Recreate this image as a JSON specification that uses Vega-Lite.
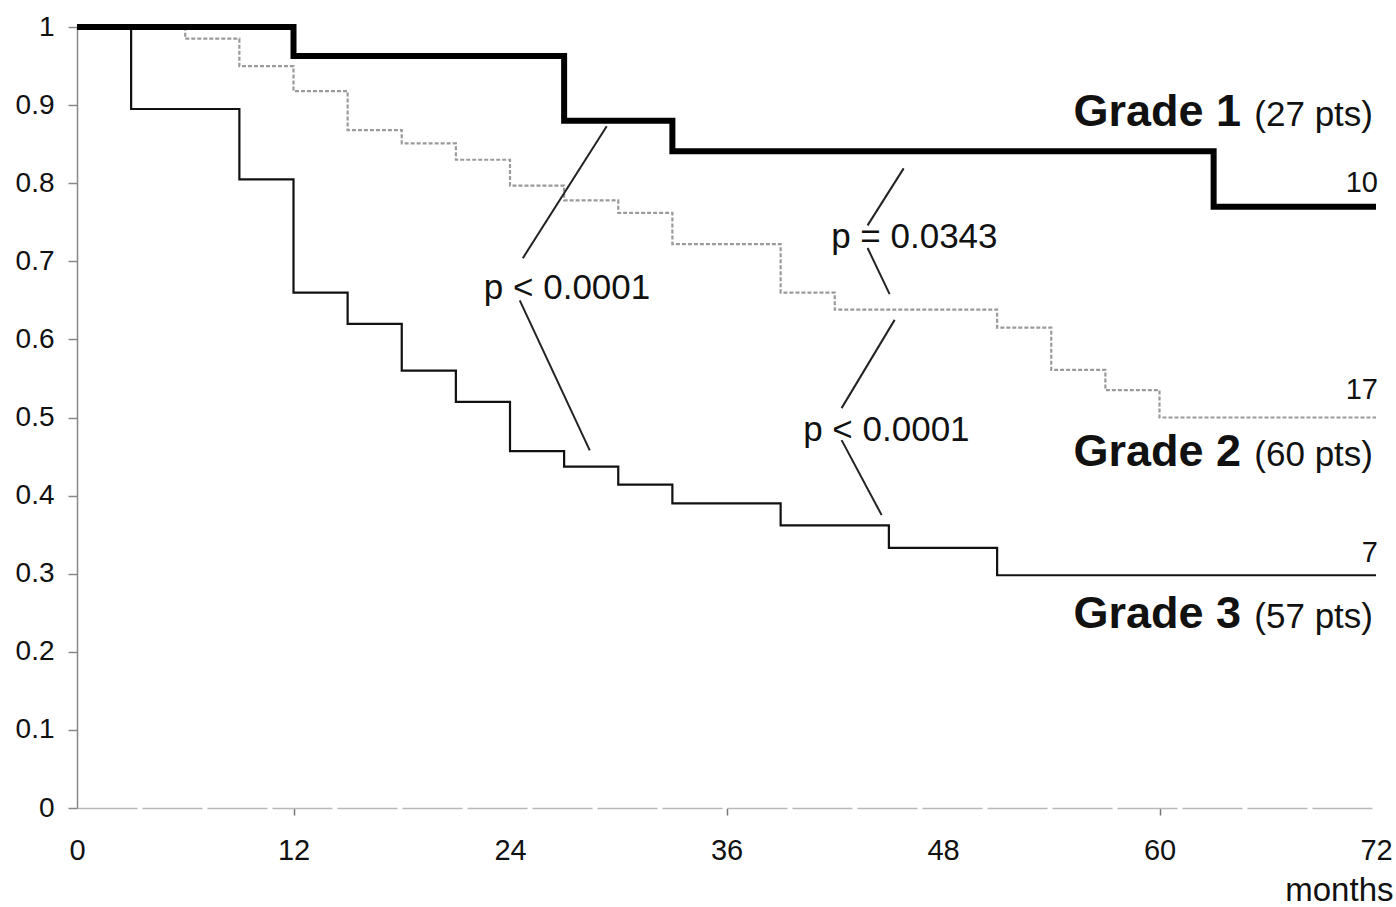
{
  "$schema": "https://vega.github.io/schema/vega-lite/v6.json",
  "width": 1299,
  "height": 781,
  "autosize": "none",
  "padding": {"left": 77, "top": 27, "right": 20, "bottom": 99},
  "background": "white",
  "config": {
    "view": {"stroke": null},
    "font": "Liberation Sans",
    "text": {"font": "Liberation Sans", "color": "#111"}
  },
  "datasets": {
    "km": [
      {"grade": "Grade 1", "month": 0, "surv": 1},
      {"grade": "Grade 1", "month": 12, "surv": 0.963},
      {"grade": "Grade 1", "month": 27, "surv": 0.88},
      {"grade": "Grade 1", "month": 33, "surv": 0.841},
      {"grade": "Grade 1", "month": 63, "surv": 0.77},
      {"grade": "Grade 1", "month": 72, "surv": 0.77},
      {"grade": "Grade 2", "month": 0, "surv": 1},
      {"grade": "Grade 2", "month": 6, "surv": 0.985},
      {"grade": "Grade 2", "month": 9, "surv": 0.95},
      {"grade": "Grade 2", "month": 12, "surv": 0.918},
      {"grade": "Grade 2", "month": 15, "surv": 0.868},
      {"grade": "Grade 2", "month": 18, "surv": 0.851},
      {"grade": "Grade 2", "month": 21, "surv": 0.83},
      {"grade": "Grade 2", "month": 24, "surv": 0.797},
      {"grade": "Grade 2", "month": 27, "surv": 0.778},
      {"grade": "Grade 2", "month": 30, "surv": 0.762},
      {"grade": "Grade 2", "month": 33, "surv": 0.722},
      {"grade": "Grade 2", "month": 39, "surv": 0.66},
      {"grade": "Grade 2", "month": 42, "surv": 0.638},
      {"grade": "Grade 2", "month": 51, "surv": 0.615},
      {"grade": "Grade 2", "month": 54, "surv": 0.561},
      {"grade": "Grade 2", "month": 57, "surv": 0.535},
      {"grade": "Grade 2", "month": 60, "surv": 0.5},
      {"grade": "Grade 2", "month": 72, "surv": 0.5},
      {"grade": "Grade 3", "month": 0, "surv": 1},
      {"grade": "Grade 3", "month": 3, "surv": 0.895},
      {"grade": "Grade 3", "month": 9, "surv": 0.805},
      {"grade": "Grade 3", "month": 12, "surv": 0.66},
      {"grade": "Grade 3", "month": 15, "surv": 0.62},
      {"grade": "Grade 3", "month": 18, "surv": 0.56},
      {"grade": "Grade 3", "month": 21, "surv": 0.52},
      {"grade": "Grade 3", "month": 24, "surv": 0.457},
      {"grade": "Grade 3", "month": 27, "surv": 0.437},
      {"grade": "Grade 3", "month": 30, "surv": 0.414},
      {"grade": "Grade 3", "month": 33, "surv": 0.39},
      {"grade": "Grade 3", "month": 39, "surv": 0.362},
      {"grade": "Grade 3", "month": 45, "surv": 0.333},
      {"grade": "Grade 3", "month": 51, "surv": 0.298},
      {"grade": "Grade 3", "month": 72, "surv": 0.298}
    ],
    "connectors": [
      {"seg": 1, "month": 29.36, "surv": 0.873},
      {"seg": 1, "month": 24.71, "surv": 0.704},
      {"seg": 2, "month": 24.54, "surv": 0.65},
      {"seg": 2, "month": 28.42, "surv": 0.458},
      {"seg": 3, "month": 45.82, "surv": 0.819},
      {"seg": 3, "month": 43.82, "surv": 0.746},
      {"seg": 4, "month": 43.82, "surv": 0.717},
      {"seg": 4, "month": 45.04, "surv": 0.658},
      {"seg": 5, "month": 45.32, "surv": 0.625},
      {"seg": 5, "month": 42.38, "surv": 0.512},
      {"seg": 6, "month": 42.38, "surv": 0.471},
      {"seg": 6, "month": 44.6, "surv": 0.375}
    ],
    "pvalues": [
      {"label": "p < 0.0001", "month": 22.55, "surv": 0.666},
      {"label": "p = 0.0343", "month": 41.8, "surv": 0.731},
      {"label": "p < 0.0001", "month": 40.25, "surv": 0.484}
    ],
    "grades": [
      {"grade": "Grade 1", "pts": "(27 pts)", "month": 72, "surv": 0.891},
      {"grade": "Grade 2", "pts": "(60 pts)", "month": 72, "surv": 0.456},
      {"grade": "Grade 3", "pts": "(57 pts)", "month": 72, "surv": 0.248}
    ],
    "counts": [
      {"n": "10", "month": 72, "surv": 0.8},
      {"n": "17", "month": 72, "surv": 0.535},
      {"n": "7", "month": 72, "surv": 0.3265}
    ]
  },
  "encoding": {
    "x": {
      "field": "month", "type": "quantitative",
      "scale": {"domain": [0, 72], "nice": false, "zero": false},
      "axis": {
        "title": "months",
        "values": [0, 12, 24, 36, 48, 60, 72],
        "grid": false,
        "labelFont": "Liberation Sans",
        "labelFontSize": 29,
        "labelColor": "#111",
        "labelPadding": 21,
        "labelFlush": false,
        "domainColor": "#b8b8b8",
        "domainWidth": 1.5,
        "domainDash": [60, 5],
        "tickColor": "#777",
        "tickSize": 7,
        "tickWidth": 1.5,
        "tickOpacity": {"condition": {"test": "datum.value % 24 == 12", "value": 1}, "value": 0},
        "titleFont": "Liberation Sans",
        "titleFontSize": 33,
        "titleFontWeight": "normal",
        "titleColor": "#111",
        "titleAlign": "right",
        "titleBaseline": "middle",
        "titleX": 1316,
        "titleY": 82
      }
    },
    "y": {
      "field": "surv", "type": "quantitative",
      "scale": {"domain": [0, 1], "nice": false},
      "axis": {
        "title": null,
        "values": [0, 0.1, 0.2, 0.3, 0.4, 0.5, 0.6, 0.7, 0.8, 0.9, 1],
        "labelExpr": "format(datum.value, '~g')",
        "grid": false,
        "labelFont": "Liberation Sans",
        "labelFontSize": 28,
        "labelColor": "#111",
        "labelPadding": 14,
        "domainColor": "#888",
        "domainWidth": 1.5,
        "tickColor": "#888",
        "tickSize": 9,
        "tickWidth": 1.5
      }
    }
  },
  "layer": [
    {
      "data": {"name": "km"},
      "transform": [{"filter": "datum.grade == 'Grade 2'"}],
      "mark": {"type": "line", "interpolate": "step-after", "color": "#9a9a9a", "strokeWidth": 2.2, "strokeDash": [4, 2]}
    },
    {
      "data": {"name": "km"},
      "transform": [{"filter": "datum.grade == 'Grade 3'"}],
      "mark": {"type": "line", "interpolate": "step-after", "color": "#111", "strokeWidth": 2.2}
    },
    {
      "data": {"name": "km"},
      "transform": [{"filter": "datum.grade == 'Grade 1'"}],
      "mark": {"type": "line", "interpolate": "step-after", "color": "#000", "strokeWidth": 6}
    },
    {
      "data": {"name": "connectors"},
      "mark": {"type": "line", "color": "#222", "strokeWidth": 2},
      "encoding": {"detail": {"field": "seg", "type": "nominal"}}
    },
    {
      "data": {"name": "pvalues"},
      "mark": {"type": "text", "align": "left", "baseline": "middle", "fontSize": 35},
      "encoding": {"text": {"field": "label"}}
    },
    {
      "data": {"name": "grades"},
      "mark": {"type": "text", "align": "right", "baseline": "middle", "fontSize": 45, "fontWeight": "bold", "dx": -135},
      "encoding": {"text": {"field": "grade"}}
    },
    {
      "data": {"name": "grades"},
      "mark": {"type": "text", "align": "right", "baseline": "middle", "fontSize": 35, "dx": -3, "dy": 3},
      "encoding": {"text": {"field": "pts"}}
    },
    {
      "data": {"name": "counts"},
      "mark": {"type": "text", "align": "right", "baseline": "middle", "fontSize": 29, "dx": 2},
      "encoding": {"text": {"field": "n"}}
    }
  ]
}
